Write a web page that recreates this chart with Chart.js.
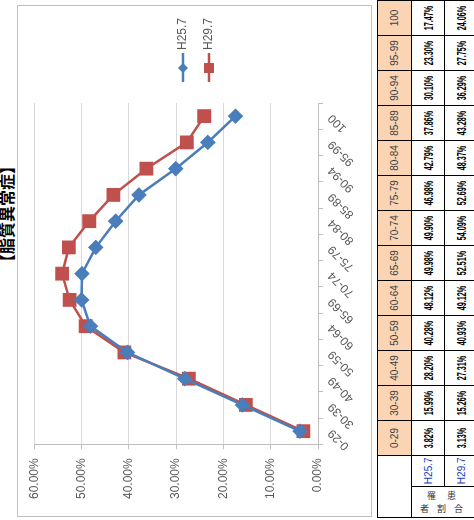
<!DOCTYPE html>
<html>
<head>
<meta charset="utf-8">
<script src="https://cdn.jsdelivr.net/npm/chart.js@4.4.1/dist/chart.umd.min.js"></script>
<style>
  html, body { margin: 0; padding: 0; background: #fff; overflow: hidden; }
  body { width: 474px; height: 520px; position: relative; }
  /* the sheet is laid out landscape and turned a quarter turn */
  #sheet {
    position: absolute; left: 0; top: 0; width: 520px; height: 474px;
    transform-origin: 0 0; transform: translateY(520px) rotate(-90deg);
    font-family: "Liberation Sans", Arial, sans-serif;
  }
  #title {
    position: absolute; left: 250px; top: -6px; line-height: 16px;
    font: bold 16px "Noto Sans CJK JP", sans-serif; color: #000; white-space: nowrap;
  }
  #frame {
    position: absolute; left: 3px; top: 17px; width: 510px; height: 353px;
    border: 1px solid #bfbfbf;
  }
  #tbl {
    position: absolute; left: 2px; top: 377px; border-collapse: collapse;
    table-layout: fixed;
  }
  #tbl td {
    border: 1px solid #000; padding: 0; text-align: center; overflow: hidden;
    white-space: nowrap;
  }
  #tbl td.head { background: #fbd4b4; color: #404040; font: 10px "Liberation Sans", sans-serif; height: 33px; }
  #tbl td.val { height: 32px; }
  #tbl td.val span {
    display: inline-block; width: 44px; margin: 0 -5px; transform: scaleX(0.6);
    font: bold 12px "Liberation Sans", sans-serif; color: #000;
  }
  #tbl td.ser { color: #2040c0; font: 10px "Liberation Sans", sans-serif; }
  #tbl td.blank { background: #fff; }
  #tbl td.rate {
    font: 9px "Noto Sans CJK JP", sans-serif; color: #333;
    writing-mode: vertical-rl; text-orientation: sideways; line-height: 13px;
    padding-bottom: 6px;
  }
  #tbl td.rate .l1 { letter-spacing: 11px; margin-inline-start: 11px; }
  #tbl td.rate .l2 { letter-spacing: 8px; margin-inline-start: 8px; }
</style>
</head>
<body>
<div id="sheet">
  <div id="title">【脂質異常症】</div>
  <div id="frame"><canvas id="rateChart"></canvas></div>
  <table id="tbl"></table>
</div>
<script>
const ageGroups = ["0-29", "30-39", "40-49", "50-59", "60-64", "65-69", "70-74",
                   "75-79", "80-84", "85-89", "90-94", "95-99", "100"];
const seriesNames = ["H25.7", "H29.7"];
const rateH25 = [3.82, 15.99, 28.20, 40.28, 48.12, 49.98, 49.90, 46.98, 42.79, 37.86, 30.10, 23.30, 17.47];
const rateH29 = [3.13, 15.26, 27.31, 40.93, 49.12, 52.51, 54.09, 52.69, 48.37, 43.28, 36.29, 27.75, 24.06];
const rowLabel = ["罹患", "者割合"];

const blue = "#4a7ebb";
const red = "#c0504d";

// legend symbol: short line with the series marker, drawn right of the box centre
function legendSymbol(color, shape) {
    const c = document.createElement("canvas");
    c.width = 39; c.height = 16;
    const g = c.getContext("2d");
    g.strokeStyle = color; g.lineWidth = 2.5;
    g.beginPath(); g.moveTo(10, 8); g.lineTo(39, 8); g.stroke();
    g.fillStyle = color;
    const cx = 24;
    if (shape === "diamond") {
        g.beginPath(); g.moveTo(cx, 3); g.lineTo(cx + 5, 8); g.lineTo(cx, 13); g.lineTo(cx - 5, 8); g.closePath(); g.fill();
    } else {
        g.fillRect(cx - 5, 3, 10, 10);
    }
    return c;
}
const symbols = [legendSymbol(blue, "diamond"), legendSymbol(red, "square")];

const axisFont = { family: "Liberation Sans", size: 12 };

const ctx = document.getElementById("rateChart").getContext("2d");
new Chart(ctx, {
    type: "line",
    data: {
        labels: ageGroups,
        datasets: [{
            label: seriesNames[0],
            data: rateH25,
            borderColor: blue,
            backgroundColor: blue,
            borderWidth: 2.5,
            pointStyle: "rectRot",
            pointRadius: 6,
            pointHoverRadius: 6,
            tension: 0
        }, {
            label: seriesNames[1],
            data: rateH29,
            borderColor: red,
            backgroundColor: red,
            borderWidth: 2.5,
            pointStyle: "rect",
            pointRadius: 8,
            pointHoverRadius: 8,
            tension: 0
        }]
    },
    options: {
        responsive: true,
        maintainAspectRatio: false,
        animation: false,
        layout: { padding: { left: 8, top: 15, right: 2, bottom: 12 } },
        plugins: {
            legend: {
                position: "right",
                labels: {
                    usePointStyle: true,
                    pointStyleWidth: 33,
                    boxHeight: 12,
                    padding: 14,
                    color: "#595959",
                    font: axisFont,
                    generateLabels: chart => {
                        const items = Chart.defaults.plugins.legend.labels.generateLabels(chart);
                        items.forEach((it, i) => { it.pointStyle = symbols[i]; });
                        return items;
                    }
                }
            },
            tooltip: { enabled: false }
        },
        scales: {
            x: {
                offset: true,
                grid: { display: true, drawOnChartArea: false, drawTicks: true, tickLength: 5, offset: true, color: "#bfbfbf" },
                border: { color: "#bfbfbf" },
                ticks: { minRotation: 45, maxRotation: 45, color: "#595959", font: axisFont, padding: 2 }
            },
            y: {
                min: 0, max: 60,
                grid: { color: "#d9d9d9", tickLength: 5, tickColor: "#bfbfbf" },
                border: { color: "#bfbfbf" },
                ticks: {
                    stepSize: 10,
                    color: "#595959",
                    font: axisFont,
                    padding: 9,
                    callback: v => v.toFixed(2) + "%"
                }
            }
        }
    }
});

// data table under the chart
const tbl = document.getElementById("tbl");
let html = '<colgroup><col style="width:35px"><col style="width:33px">';
ageGroups.forEach(() => { html += '<col style="width:34.1px">'; });
html += '</colgroup>';
html += '<tr><td class="blank" colspan="2"></td>' + ageGroups.map(a => `<td class="head">${a}</td>`).join("") + '</tr>';
html += `<tr><td class="rate" rowspan="2"><span class="l1">${rowLabel[0]}</span><br><span class="l2">${rowLabel[1]}</span></td>` +
        `<td class="ser">${seriesNames[0]}</td>` +
        rateH25.map(v => `<td class="val"><span>${v.toFixed(2)}%</span></td>`).join("") + '</tr>';
html += `<tr><td class="ser">${seriesNames[1]}</td>` +
        rateH29.map(v => `<td class="val"><span>${v.toFixed(2)}%</span></td>`).join("") + '</tr>';
tbl.innerHTML = html;
</script>
</body>
</html>
